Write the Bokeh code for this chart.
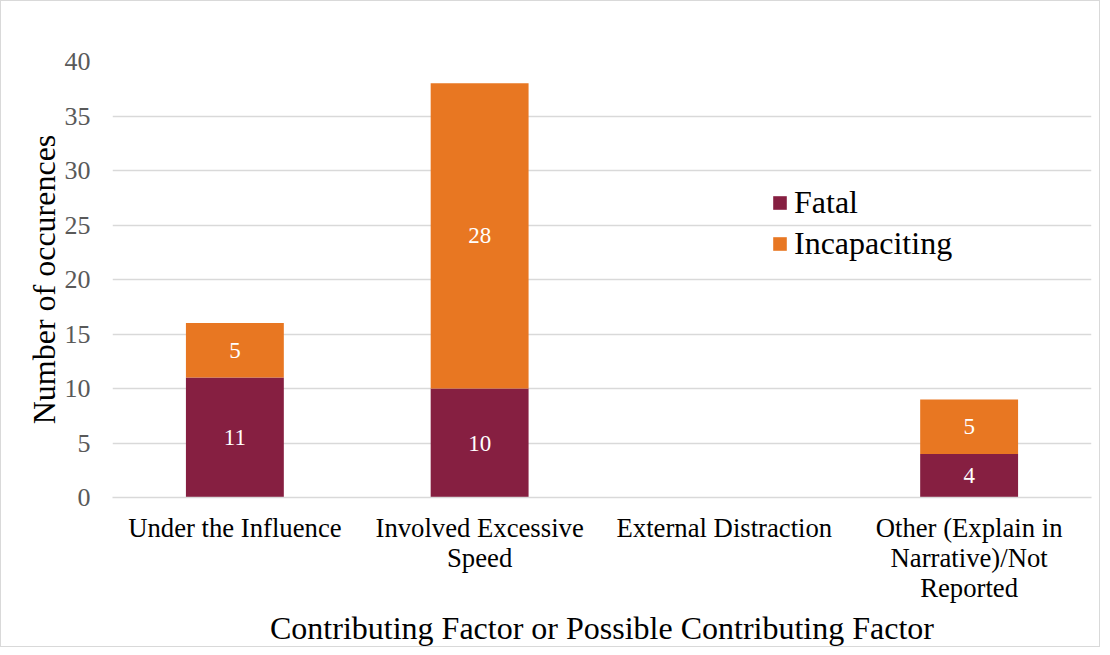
from bokeh.plotting import figure
from bokeh.models import ColumnDataSource, LabelSet, Legend, LegendItem, FactorRange
from bokeh.embed import file_html
from bokeh.resources import INLINE

categories = ["Under the Influence", "Involved Excessive\nSpeed", "External Distraction",
              "Other (Explain in\nNarrative)/Not\nReported"]
fatal = [11, 10, 0, 4]
incap = [5, 28, 0, 5]
series = ["Fatal", "Incapaciting"]
colors = ["#861F41", "#E87722"]
y_ticks = [0, 5, 10, 15, 20, 25, 30, 35, 40]

FONT = "Liberation Serif"

src = ColumnDataSource(dict(cat=categories, Fatal=fatal, Incapaciting=incap))

p = figure(x_range=FactorRange(*categories), y_range=(0, 40), width=1100, height=647,
           output_backend="svg", toolbar_location=None,
           min_border_left=111, min_border_right=10, min_border_top=60, min_border_bottom=140)
p.styles = {"border": "1px solid #d9d9d9"}

r = p.vbar_stack(series, x="cat", width=0.4, source=src, color=colors, line_color=None)

# data labels
fl_src = ColumnDataSource(dict(cat=[c for c, v in zip(categories, fatal) if v > 0],
                               y=[v / 2 for v in fatal if v > 0],
                               t=[str(v) for v in fatal if v > 0]))
il_src = ColumnDataSource(dict(cat=[c for c, f, v in zip(categories, fatal, incap) if v > 0],
                               y=[f + v / 2 for f, v in zip(fatal, incap) if v > 0],
                               t=[str(v) for v in incap if v > 0]))
for s in (fl_src, il_src):
    p.add_layout(LabelSet(x="cat", y="y", text="t", source=s, text_color="white",
                          text_font=FONT, text_font_size="23px", text_align="center",
                          text_baseline="middle"))

p.yaxis.ticker = y_ticks
p.yaxis.axis_line_color = None
p.yaxis.major_tick_line_color = None
p.yaxis.minor_tick_line_color = None
p.yaxis.major_label_text_font = FONT
p.yaxis.major_label_text_font_size = "26px"
p.yaxis.major_label_text_color = "#595959"
p.yaxis.major_label_standoff = 16
p.yaxis.axis_label = "Number of occurences"
p.yaxis.axis_label_text_font = FONT
p.yaxis.axis_label_text_font_size = "32px"
p.yaxis.axis_label_text_font_style = "normal"
p.yaxis.axis_label_text_color = "black"
p.yaxis.axis_label_standoff = 0

p.xaxis.axis_line_color = "#d9d9d9"
p.xaxis.axis_line_width = 1.5
p.xaxis.major_tick_line_color = None
p.xaxis.minor_tick_line_color = None
p.xaxis.major_label_text_font = FONT
p.xaxis.major_label_text_font_size = "26.7px"
p.xaxis.major_label_text_line_height = 1.0
p.xaxis.major_label_text_color = "black"
p.xaxis.major_label_standoff = 9
p.xaxis.axis_label = "Contributing Factor or Possible Contributing Factor"
p.xaxis.axis_label_text_font = FONT
p.xaxis.axis_label_text_font_size = "32px"
p.xaxis.axis_label_text_font_style = "normal"
p.xaxis.axis_label_text_color = "black"
p.xaxis.axis_label_standoff = 4

p.xgrid.grid_line_color = None
p.ygrid.grid_line_color = "#d9d9d9"
p.ygrid.grid_line_width = 1.5
p.outline_line_color = None
p.x_range.range_padding = 0

legend = Legend(items=[LegendItem(label=s, renderers=[rr]) for s, rr in zip(series, r)],
                location=(659, 235), border_line_color=None, background_fill_alpha=0,
                label_text_font=FONT, label_text_font_size="32px", label_text_color="black",
                glyph_width=17, glyph_height=17, spacing=4, padding=0, margin=0,
                label_standoff=6, label_height=34)
p.add_layout(legend)

open("out.html", "w").write(file_html(p, INLINE))
